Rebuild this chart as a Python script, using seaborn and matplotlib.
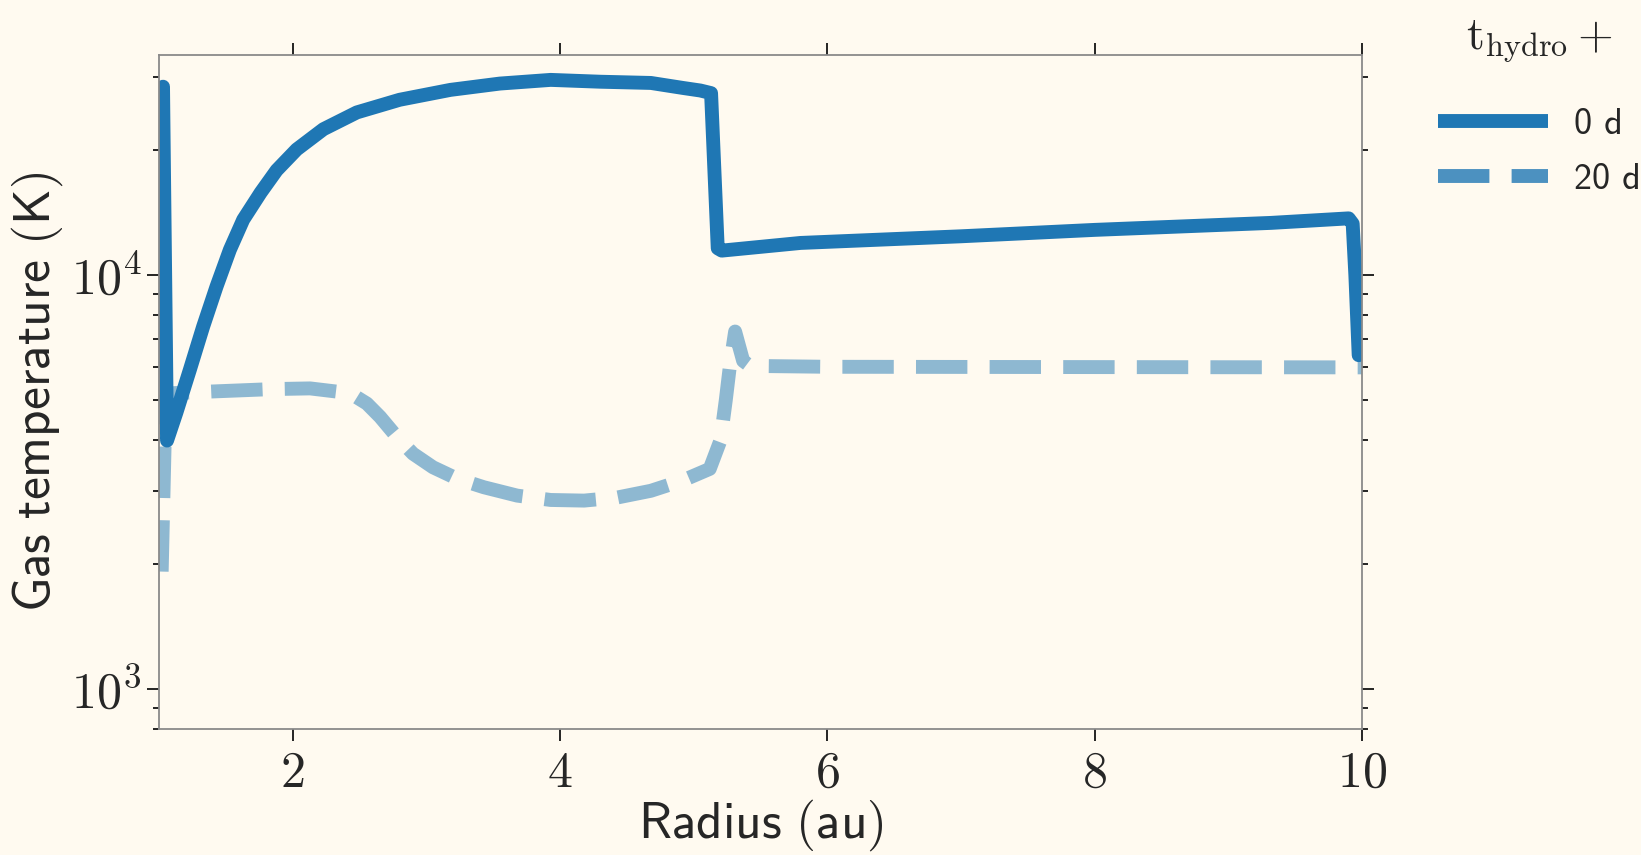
import numpy as np
import pandas as pd
import matplotlib
matplotlib.use("Agg")
import matplotlib.pyplot as plt
import matplotlib.ticker as mticker
from matplotlib.lines import Line2D
import seaborn as sns

# ---- data ----
radius_0d = [1.03, 1.06, 1.13, 1.23, 1.33, 1.43, 1.53, 1.63, 1.76, 1.88, 2.03, 2.23,
             2.48, 2.80, 3.18, 3.55, 3.93, 4.30, 4.68, 4.92, 5.05, 5.13, 5.18, 5.21,
             5.80, 7.00, 8.00, 9.32, 9.90, 9.93, 9.95, 9.975]
temp_0d = [28500, 3980, 4650, 5890, 7500, 9370, 11500, 13600, 15800, 17900, 20100, 22500,
           24700, 26500, 28000, 29000, 29600, 29300, 29100, 28300, 27900, 27500, 11600, 11450,
           11950, 12400, 12850, 13360, 13700, 13300, 10000, 6400]

radius_20d = [1.02, 1.05, 1.10, 1.40, 1.85, 2.13, 2.43, 2.555, 2.654, 2.78, 2.90, 3.05,
              3.23, 3.43, 3.68, 3.93, 4.18, 4.43, 4.68, 4.92, 5.12, 5.20, 5.24, 5.27,
              5.31, 5.37, 5.42, 6.00, 8.00, 10.00]
temp_20d = [1920, 5050, 5180, 5230, 5300, 5320, 5180, 4890, 4540, 4060, 3700, 3430,
            3220, 3070, 2930, 2860, 2850, 2900, 3010, 3190, 3400, 3980, 4980, 6000,
            7300, 6200, 6030, 6000, 5990, 5980]

legend_labels = ["0 d", "20 d"]
x_ticks = [2, 4, 6, 8, 10]
y_major = [1e3, 1e4]

bg = "#fffaf0"
blue = "#1f77b4"

sns.set_theme(style="ticks")
plt.rcParams["font.family"] = ["DejaVu Sans"]
plt.rcParams["mathtext.fontset"] = "cm"

fig = plt.figure(figsize=(16.41, 8.55), dpi=100, facecolor=bg)
ax = fig.add_axes([0.0969, 0.1474, 0.830 - 0.0969, 0.9357 - 0.1474])
ax.set_facecolor(bg)

df0 = pd.DataFrame({"r": radius_0d, "T": temp_0d})
df1 = pd.DataFrame({"r": radius_20d, "T": temp_20d})

sns.lineplot(data=df0, x="r", y="T", ax=ax, color=blue, lw=10,
             solid_capstyle="round", solid_joinstyle="round")
sns.lineplot(data=df1, x="r", y="T", ax=ax, color=blue, lw=10, alpha=0.5,
             linestyle="--", dash_capstyle="butt", dash_joinstyle="round")

ax.set_yscale("log")
ax.set_xlim(1, 10)
ax.set_ylim(800, 34000)

ax.xaxis.set_major_locator(mticker.FixedLocator(x_ticks))
ax.xaxis.set_major_formatter(mticker.FuncFormatter(lambda v, p: rf"${v:g}$"))
ax.xaxis.set_minor_locator(mticker.NullLocator())
ax.yaxis.set_major_locator(mticker.FixedLocator(y_major))
ax.yaxis.set_major_formatter(mticker.FuncFormatter(
    lambda v, p: rf"$10^{{{int(round(np.log10(v)))}}}$"))
ax.yaxis.set_minor_locator(mticker.LogLocator(base=10, subs=np.arange(2, 10), numticks=20))
ax.yaxis.set_minor_formatter(mticker.NullFormatter())

ax.tick_params(which="both", direction="out", top=True, right=True,
               color="black", width=1.2)
ax.tick_params(which="major", length=8.5, labelsize=36, pad=4)
ax.tick_params(which="minor", length=4.5)
ax.tick_params(axis="x", which="major", pad=6)
for s in ax.spines.values():
    s.set_color("#8a8a8a")
    s.set_linewidth(1.3)

ax.set_xlabel(r"$\mathsf{Radius\ (au)}$", fontsize=37, labelpad=0)
ax.set_ylabel(r"$\mathsf{Gas\ temperature\ (K)}$", fontsize=37, labelpad=4)

handles = [Line2D([], [], color=blue, lw=10, solid_capstyle="butt"),
           Line2D([], [], color=blue, lw=10, alpha=0.8, linestyle="--", dash_capstyle="butt")]
leg = fig.legend(handles=handles, labels=legend_labels,
                 loc="upper left", bbox_to_anchor=(0.8765, 0.985),
                 frameon=False, prop={"family": "cmss10", "size": 26},
                 handlelength=3.05, handletextpad=0.72,
                 labelspacing=0.6, borderpad=0, borderaxespad=0,
                 title=r"$\mathrm{t}_{\mathrm{hydro}}+$", title_fontsize=33)
leg._legend_box.sep = 32

fig.savefig("out.png", dpi=100, facecolor=bg)
